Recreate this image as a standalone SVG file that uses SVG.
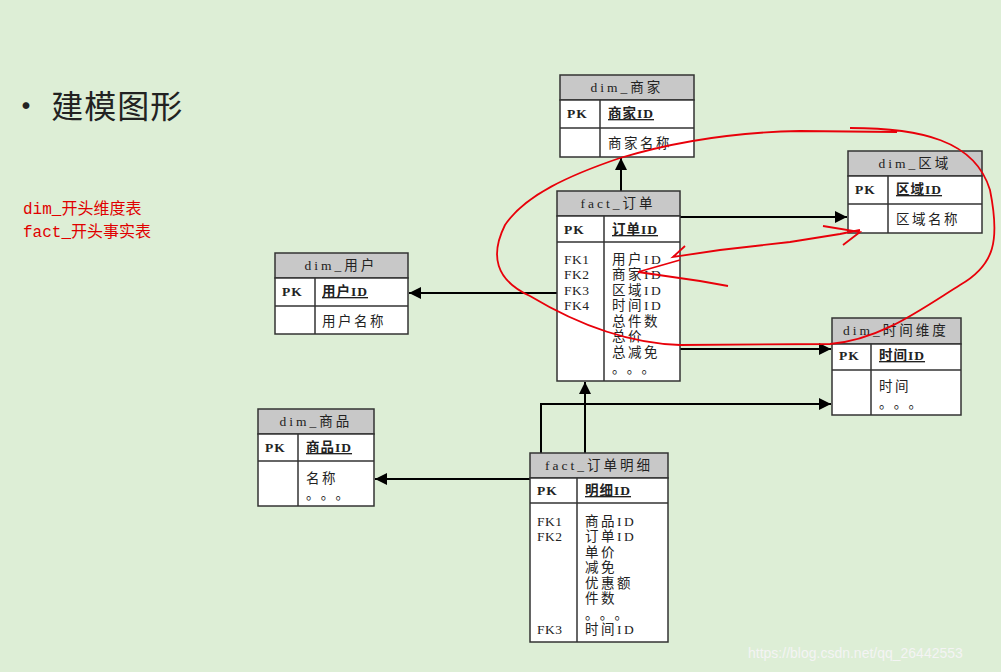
<svg xmlns="http://www.w3.org/2000/svg" width="1001" height="672" viewBox="0 0 1001 672">
<defs>
<marker id="ah" viewBox="0 0 10 10" refX="10" refY="5" markerWidth="17" markerHeight="12" markerUnits="userSpaceOnUse" orient="auto"><path d="M0,0L10,5L0,10z" fill="#000"/></marker>
<style>
.box{fill:#fff;stroke:#333;stroke-width:1.5}
.hd{fill:#c8c8c8;stroke:#333;stroke-width:1.5}
.ln{stroke:#333;stroke-width:1.5}
text{font-family:"Liberation Serif","Noto Sans CJK SC",serif;font-size:13.5px;fill:#222;letter-spacing:2.5px}
.h{text-anchor:middle;letter-spacing:3px}
.b{font-weight:bold;letter-spacing:1px}
.u{text-decoration:underline;font-weight:bold;letter-spacing:1px}
.c{stroke:#000;stroke-width:2;fill:none}
.r{stroke:#e8000a;stroke-width:1.8;fill:none}
</style>
</defs>
<rect width="1001" height="672" fill="#ddeed6"/>
<text x="10" y="118" style="font-family:'Noto Sans CJK SC',sans-serif;font-size:32px;letter-spacing:1px" fill="#111">• 建模图形</text>
<text x="23" y="214" style="font-family:'Liberation Mono','Noto Sans CJK SC',monospace;font-size:16px;fill:#e00000;letter-spacing:0">dim_开头维度表</text>
<text x="23" y="237" style="font-family:'Liberation Mono','Noto Sans CJK SC',monospace;font-size:16px;fill:#e00000;letter-spacing:0">fact_开头事实表</text>

<g id="connectors">
<line class="c" x1="621" y1="191" x2="621" y2="158" marker-end="url(#ah)"/>
<line class="c" x1="680" y1="217" x2="847" y2="217" marker-end="url(#ah)"/>
<line class="c" x1="557" y1="293" x2="409" y2="293" marker-end="url(#ah)"/>
<line class="c" x1="680" y1="349" x2="831" y2="349" marker-end="url(#ah)"/>
<line class="c" x1="585" y1="453" x2="585" y2="382" marker-end="url(#ah)"/>
<polyline class="c" points="541,453 541,404 831,404" marker-end="url(#ah)"/>
<line class="c" x1="530" y1="479" x2="375" y2="479" marker-end="url(#ah)"/>
</g>

<g id="dim_shangjia">
<rect class="hd" x="560" y="75" width="134" height="25"/>
<rect class="box" x="560" y="100" width="134" height="57"/>
<line class="ln" x1="560" y1="128" x2="694" y2="128"/><line class="ln" x1="600" y1="100" x2="600" y2="157"/>
<text class="h" x="627" y="92">dim_商家</text>
<text class="b" x="567" y="118">PK</text><text class="u" x="608" y="118">商家ID</text>
<text x="608" y="148">商家名称</text>
</g>

<g id="fact_dingdan">
<rect class="hd" x="557" y="191" width="123" height="25"/>
<rect class="box" x="557" y="216" width="123" height="165"/>
<line class="ln" x1="557" y1="242" x2="680" y2="242"/><line class="ln" x1="604" y1="216" x2="604" y2="381"/>
<text class="h" x="618" y="208">fact_订单</text>
<text class="b" x="564" y="234">PK</text><text class="u" x="612" y="234">订单ID</text>
<text x="564" y="264" style="letter-spacing:0.5px">FK1</text><text x="564" y="279" style="letter-spacing:0.5px">FK2</text><text x="564" y="295" style="letter-spacing:0.5px">FK3</text><text x="564" y="310" style="letter-spacing:0.5px">FK4</text>
<text x="612" y="264">用户ID</text><text x="612" y="279">商家ID</text><text x="612" y="295">区域ID</text><text x="612" y="310">时间ID</text>
<text x="612" y="326">总件数</text><text x="612" y="341">总价</text><text x="612" y="357">总减免</text><text x="612" y="373" style="letter-spacing:8px">。。。</text>
</g>

<g id="dim_quyu">
<rect class="hd" x="848" y="151" width="134" height="25"/>
<rect class="box" x="848" y="176" width="134" height="57"/>
<line class="ln" x1="848" y1="204" x2="982" y2="204"/><line class="ln" x1="888" y1="176" x2="888" y2="233"/>
<text class="h" x="915" y="168">dim_区域</text>
<text class="b" x="855" y="194">PK</text><text class="u" x="896" y="194">区域ID</text>
<text x="896" y="224">区域名称</text>
</g>

<g id="dim_yonghu">
<rect class="hd" x="275" y="253" width="133" height="25"/>
<rect class="box" x="275" y="278" width="133" height="56"/>
<line class="ln" x1="275" y1="306" x2="408" y2="306"/><line class="ln" x1="315" y1="278" x2="315" y2="334"/>
<text class="h" x="341" y="270">dim_用户</text>
<text class="b" x="282" y="296">PK</text><text class="u" x="322" y="296">用户ID</text>
<text x="322" y="326">用户名称</text>
</g>

<g id="dim_shijian">
<rect class="hd" x="832" y="318" width="129" height="26"/>
<rect class="box" x="832" y="344" width="129" height="71"/>
<line class="ln" x1="832" y1="370" x2="961" y2="370"/><line class="ln" x1="871" y1="344" x2="871" y2="415"/>
<text class="h" x="896" y="335">dim_时间维度</text>
<text class="b" x="839" y="360">PK</text><text class="u" x="879" y="360">时间ID</text>
<text x="879" y="391">时间</text><text x="879" y="408" style="letter-spacing:8px">。。。</text>
</g>

<g id="dim_shangpin">
<rect class="hd" x="258" y="409" width="116" height="25"/>
<rect class="box" x="258" y="434" width="116" height="72"/>
<line class="ln" x1="258" y1="461" x2="374" y2="461"/><line class="ln" x1="298" y1="434" x2="298" y2="506"/>
<text class="h" x="316" y="426">dim_商品</text>
<text class="b" x="265" y="452">PK</text><text class="u" x="306" y="452">商品ID</text>
<text x="306" y="483">名称</text><text x="306" y="499" style="letter-spacing:8px">。。。</text>
</g>

<g id="fact_mingxi">
<rect class="hd" x="530" y="453" width="138" height="25"/>
<rect class="box" x="530" y="478" width="138" height="164"/>
<line class="ln" x1="530" y1="503" x2="668" y2="503"/><line class="ln" x1="577" y1="478" x2="577" y2="642"/>
<text class="h" x="599" y="470">fact_订单明细</text>
<text class="b" x="537" y="495">PK</text><text class="u" x="585" y="495">明细ID</text>
<text x="537" y="526" style="letter-spacing:0.5px">FK1</text><text x="537" y="541" style="letter-spacing:0.5px">FK2</text><text x="537" y="634" style="letter-spacing:0.5px">FK3</text>
<text x="585" y="526">商品ID</text><text x="585" y="541">订单ID</text><text x="585" y="557">单价</text><text x="585" y="572">减免</text><text x="585" y="588">优惠额</text><text x="585" y="603">件数</text><text x="585" y="619" style="letter-spacing:8px">。。。</text><text x="585" y="634">时间ID</text>
</g>

<g id="annotations">
<path class="r" d="M850,128 C920,128 975,140 990,190 C1000,240 995,265 960,285 C920,310 880,340 830,344 L680,345 C620,343 570,320 530,296 C495,280 490,255 505,225 C525,195 570,175 620,158 C680,140 740,132 800,131 L897,132"/>
<path class="r" d="M685,246 L673,257 L720,250 L790,242 L840,234 L860,230 M823,226 L860,232 L843,245"/>
<path class="r" d="M680,260 L638,272 L700,281 L728,286"/>
</g>
<text x="748" y="658" style="font-family:'Liberation Sans',sans-serif;font-size:14px;fill:#f4f4f4;letter-spacing:0">https://blog.csdn.net/qq_26442553</text>
</svg>
